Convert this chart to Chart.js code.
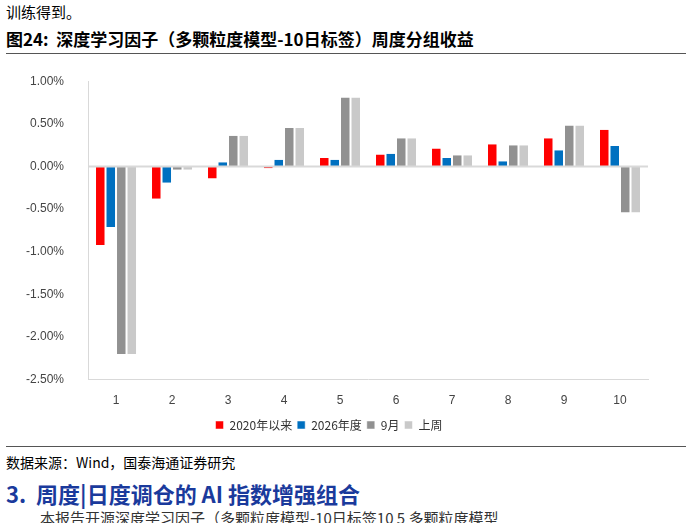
<!DOCTYPE html><html><head><meta charset="utf-8">
<script src="https://cdn.jsdelivr.net/npm/chart.js@4"></script>
<style>
body{margin:0;width:692px;height:523px;overflow:hidden;background:#fff;font-family:"Noto Sans CJK SC";position:relative}
.t{position:absolute;white-space:nowrap}
</style></head><body>
<div class="t" style="left:6px;top:2px;font-size:15px;color:#000;line-height:20px">训练得到。</div>
<div class="t" style="left:6px;top:27px;font-size:17px;font-weight:bold;line-height:24px">图24:&nbsp; 深度学习因子（多颗粒度模型-10日标签）周度分组收益</div>
<div style="position:absolute;left:6px;top:53px;width:680px;height:1px;background:#555"></div>
<div style="position:absolute;left:6px;top:446px;width:680px;height:1px;background:#555"></div>
<div class="t" style="left:6px;top:452px;font-size:14px;line-height:20px">数据来源：Wind，国泰海通证券研究</div>
<div class="t" style="left:6px;top:478px;font-size:22px;font-weight:bold;color:#1a3a9c;line-height:30px">3.&nbsp; 周度|日度调仓的 AI 指数增强组合</div>
<div class="t" style="left:40px;top:508px;font-size:15px;line-height:20px;color:#333">本报告开源深度学习因子（多颗粒度模型-10日标签10 5 多颗粒度模型</div>
<div style="position:absolute;left:10px;top:58px;width:670px;height:383px"><canvas id="c"></canvas></div>
<script>
const categories=['1','2','3','4','5','6','7','8','9','10'];
const s2020=[-0.92,-0.38,-0.14,-0.02,0.10,0.14,0.21,0.26,0.33,0.43];
const s2026=[-0.71,-0.19,0.05,0.08,0.08,0.15,0.10,0.06,0.19,0.24];
const sSep=[-2.20,-0.04,0.36,0.45,0.81,0.33,0.13,0.25,0.48,-0.54];
const sWeek=[-2.20,-0.04,0.36,0.45,0.81,0.33,0.13,0.25,0.48,-0.54];
const names=['2020年以来','2026年度','9月','上周'];
const colors=['#ff0000','#0070c0','#919191','#c9c9c9'];
const data=[s2020,s2026,sSep,sWeek];
new Chart(document.getElementById('c'),{type:'bar',
data:{labels:categories,datasets:data.map((d,i)=>({label:names[i],data:d,backgroundColor:colors[i],borderColor:'#fff',borderWidth:{left:1,right:1,top:0,bottom:0},categoryPercentage:0.75,barPercentage:1}))},
options:{responsive:true,maintainAspectRatio:false,animation:false,
layout:{padding:{left:0,right:32,top:10,bottom:0}},
plugins:{legend:{position:'bottom',labels:{boxWidth:8,boxHeight:8,font:{size:12,family:'Noto Sans CJK SC'},color:'#333',padding:5}},tooltip:{enabled:false}},
scales:{x:{grid:{display:false},border:{color:'#d9d9d9'},ticks:{color:'#444',font:{size:12},padding:6}},
y:{min:-2.5,max:1,afterBuildTicks:a=>{a.ticks=[1,0.5,0,-0.5,-1,-1.5,-2,-2.5].map(v=>({value:v}))},
grid:{display:false},border:{color:'#d9d9d9'},ticks:{color:'#444',font:{size:12},padding:16,callback:v=>v.toFixed(2)+'%'}}}},
plugins:[{id:'zero',afterDatasetsDraw(ch){const y=ch.scales.y.getPixelForValue(0),c=ch.ctx;c.save();c.strokeStyle='#d9d9d9';c.lineWidth=2;c.beginPath();c.moveTo(ch.chartArea.left,y);c.lineTo(ch.chartArea.right,y);c.stroke();c.restore();}}]
});
</script></body></html>
